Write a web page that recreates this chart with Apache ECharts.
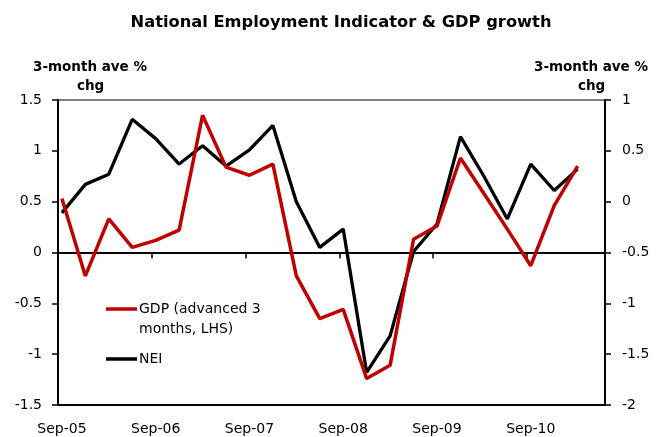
<!DOCTYPE html>
<html>
<head>
<meta charset="utf-8">
<script src="https://cdn.jsdelivr.net/npm/echarts@6/dist/echarts.min.js"></script>
<style>html,body{margin:0;padding:0;background:#fff}#c{width:657px;height:437px}</style>
</head>
<body>
<div id="c"></div>
<script>
// Quarterly observations, Sep-05 .. Mar-11
var quarters = ['Sep-05','Dec-05','Mar-06','Jun-06','Sep-06','Dec-06','Mar-07','Jun-07','Sep-07','Dec-07','Mar-08','Jun-08','Sep-08','Dec-08','Mar-09','Jun-09','Sep-09','Dec-09','Mar-10','Jun-10','Sep-10','Dec-10','Mar-11'];
var gdp = [0.53,-0.23,0.33,0.05,0.12,0.22,1.35,0.84,0.76,0.87,-0.23,-0.65,-0.56,-1.24,-1.11,0.13,0.26,0.93,0.58,0.23,-0.13,0.46,0.85];
var nei = [-0.11,0.17,0.27,0.81,0.62,0.37,0.55,0.35,0.51,0.75,0.0,-0.45,-0.27,-1.68,-1.32,-0.49,-0.22,0.64,0.25,-0.17,0.37,0.11,0.32];
var leftTicks = {min:-1.5, max:1.5, interval:0.5};
var rightTicks = {min:-2, max:1, interval:0.5};
var mon = ['Jan','Feb','Mar','Apr','May','Jun','Jul','Aug','Sep','Oct','Nov','Dec'];

// monthly category axis Sep-05 .. Jun-11
var months = [];
for (var y = 2005, m = 8; !(y === 2011 && m === 6); ) {
  months.push(mon[m] + '-' + String(y).slice(2));
  m++; if (m === 12) { m = 0; y++; }
}
function toMonthly(vals) {
  var out = months.map(function(){ return null; });
  quarters.forEach(function(q, i){ out[months.indexOf(q)] = vals[i]; });
  return out;
}
var F = 'DejaVu Sans';
var chart = echarts.init(document.getElementById('c'));
chart.setOption({
  animation: false,
  backgroundColor: '#fff',
  title: {
    text: 'National Employment Indicator & GDP growth',
    left: 336, top: 10, textAlign: 'center',
    textStyle: {fontFamily: F, fontWeight: 'bold', fontSize: 16.3, color: '#000'}
  },
  grid: {left: 58, right: 52, top: 100, bottom: 32, show: true, borderColor: '#000', borderWidth: 1, backgroundColor: 'transparent'},
  legend: [
    {data: ['GDP (advanced 3 months, LHS)'], orient: 'vertical', left: 106, top: 302, itemWidth: 31, itemHeight: 3.5, icon: 'rect', padding: 0,
     formatter: function(){ return 'GDP (advanced 3'; },
     textStyle: {fontFamily: F, fontSize: 14, color: '#000', padding: [0,0,0,-3]}},
    {data: ['NEI'], orient: 'vertical', left: 106, top: 352, itemWidth: 31, itemHeight: 3.5, icon: 'rect', padding: 0,
     textStyle: {fontFamily: F, fontSize: 14, color: '#000', padding: [0,0,0,-3]}}
  ],
  xAxis: [
    {type: 'category', data: months, position: 'bottom', boundaryGap: true,
     axisLine: {onZero: false, lineStyle: {color: '#000', width: 2}},
     axisTick: {show: false},
     axisLabel: {interval: 11, margin: 17, fontFamily: F, fontSize: 14, color: '#000'},
     splitLine: {show: false}},
    {type: 'category', data: months, position: 'top', boundaryGap: true,
     axisLine: {onZero: true, onZeroAxisIndex: 0, lineStyle: {color: '#000', width: 2}},
     axisTick: {show: true, inside: true, length: 6, interval: 11, lineStyle: {color: '#000', width: 1.5}},
     axisLabel: {show: false}, splitLine: {show: false}}
  ],
  yAxis: [
    {type: 'value', position: 'left', min: leftTicks.min, max: leftTicks.max, interval: leftTicks.interval,
     axisLine: {show: true, lineStyle: {color: '#000', width: 2}},
     axisTick: {show: true, length: 6, lineStyle: {color: '#000', width: 1.5}},
     axisLabel: {margin: 16, fontFamily: F, fontSize: 14, color: '#000'},
     splitLine: {show: false}},
    {type: 'value', position: 'right', min: rightTicks.min, max: rightTicks.max, interval: rightTicks.interval,
     axisLine: {show: true, lineStyle: {color: '#000', width: 2}},
     axisTick: {show: true, length: 6, lineStyle: {color: '#000', width: 1.5}},
     axisLabel: {margin: 17, fontFamily: F, fontSize: 14, color: '#000'},
     splitLine: {show: false}}
  ],
  graphic: [
    {type: 'text', left: 90 - 57, top: 60, style: {text: '3-month ave %', font: 'bold 13.5px "DejaVu Sans"', fill: '#000'}},
    {type: 'text', left: 90 - 13, top: 79, style: {text: 'chg', font: 'bold 13.5px "DejaVu Sans"', fill: '#000'}},
    {type: 'text', left: 591 - 57, top: 60, style: {text: '3-month ave %', font: 'bold 13.5px "DejaVu Sans"', fill: '#000'}},
    {type: 'text', left: 591 - 13, top: 79, style: {text: 'chg', font: 'bold 13.5px "DejaVu Sans"', fill: '#000'}},
    {type: 'text', left: 139, top: 322, style: {text: 'months, LHS)', font: '14px "DejaVu Sans"', fill: '#000'}}
  ],
  series: [
    {name: 'NEI', type: 'line', xAxisIndex: 0, yAxisIndex: 1, data: toMonthly(nei), connectNulls: true,
     symbol: 'none', showSymbol: false, color: '#000', lineStyle: {color: '#000', width: 3.3}, z: 3},
    {name: 'GDP (advanced 3 months, LHS)', type: 'line', xAxisIndex: 0, yAxisIndex: 0, data: toMonthly(gdp), connectNulls: true,
     symbol: 'none', showSymbol: false, color: '#C00000', lineStyle: {color: '#C00000', width: 3.5}, z: 4}
  ]
});
</script>
</body>
</html>
